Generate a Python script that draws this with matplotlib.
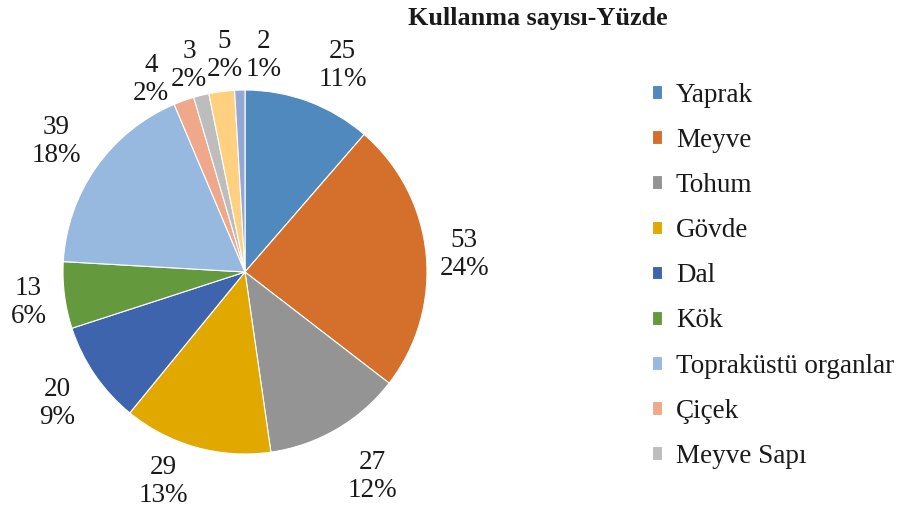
import matplotlib
matplotlib.use("Agg")
import matplotlib.pyplot as plt
import numpy as np

plt.rcParams['font.family'] = ['Liberation Serif', 'DejaVu Serif']

categories = ["Yaprak", "Meyve", "Tohum", "Gövde", "Dal", "Kök",
              "Topraküstü organlar", "Çiçek", "Meyve Sapı", "Diğer 1", "Diğer 2"]
values = [25, 53, 27, 29, 20, 13, 39, 4, 3, 5, 2]
percents = [11, 24, 12, 13, 9, 6, 18, 2, 2, 2, 1]
colors = ["#4F89BD", "#D4702C", "#949494", "#E1A900", "#3E64AD", "#65993E",
          "#97B8DF", "#F0A88A", "#BDBDBD", "#FFD07F", "#94A7D5"]
legend_count = 9
title = "Kullanma sayısı-Yüzde"

# label placement style (angle offset in degrees clockwise, radial distance)
label_offset = [4.5, 0.5, -2, 6, 0, 0, 0, -6, -1, 2, 6.5]
label_dist = [1.27, 1.21, 1.31, 1.22, 1.25, 1.2, 1.27, 1.19, 1.19, 1.21, 1.21]

W, H = 897, 508
fig = plt.figure(figsize=(W / 100, H / 100), dpi=100)

cx, cy, r = 245, 272, 182
ax = fig.add_axes([(cx - r) / W, (H - cy - r) / H, 2 * r / W, 2 * r / H])

labels = [f"{v}\n{p}%" for v, p in zip(values, percents)]

wedges, _ = ax.pie(values, colors=colors, startangle=90, counterclock=False,
                   radius=1,
                   wedgeprops=dict(edgecolor="white", linewidth=0.8))
for w, lab, off, d in zip(wedges, labels, label_offset, label_dist):
    mid = (w.theta1 + w.theta2) / 2.0
    a = np.deg2rad(90 - mid + off)  # clockwise-from-top angle
    ax.text(d * np.sin(a), d * np.cos(a) - 0.015, lab, ha="center", va="center",
            fontsize=19.5, color="#1a1a1a", linespacing=1.15)

ax.set_xlim(-1, 1)
ax.set_ylim(-1, 1)
ax.set_aspect("equal")
ax.axis("off")

fig.text(538 / W, 1 - 18 / H, title, ha="center", va="center",
         fontsize=18.8, fontweight="bold", color="#1a1a1a")

leg = fig.legend(wedges[:legend_count], categories[:legend_count],
                 loc="upper left", bbox_to_anchor=(638 / W, 1 - 69 / H),
                 frameon=False, fontsize=19.5, handlelength=0.4, handleheight=0.4,
                 handletextpad=0.5, labelspacing=0.745, borderpad=0)
for t in leg.get_texts():
    t.set_color("#1a1a1a")

fig.savefig("out.png", dpi=100)
